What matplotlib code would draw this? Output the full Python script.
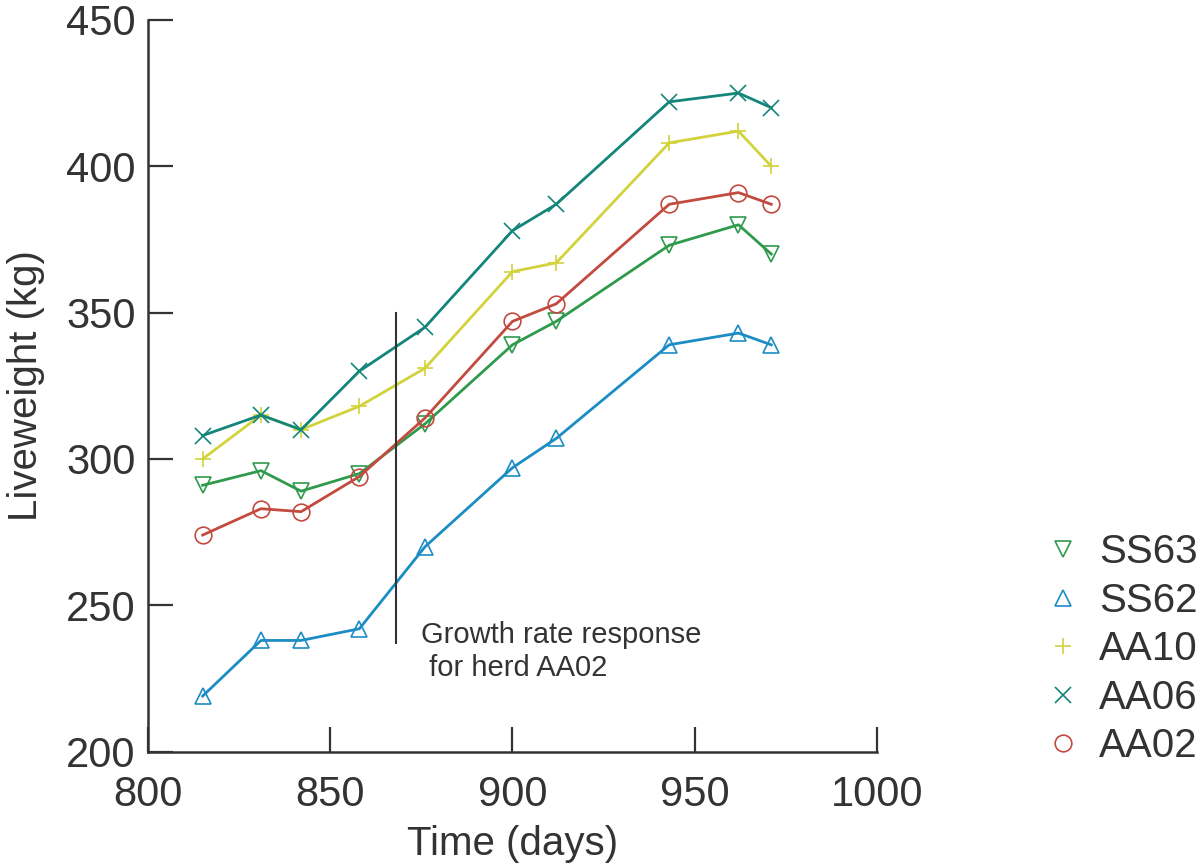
import matplotlib.pyplot as plt

plt.rcParams["font.family"] = ["Liberation Sans", "DejaVu Sans"]

days = [815, 831, 842, 858, 876, 900, 912, 943, 962, 971]
ss63 = [291, 296, 289, 295, 312, 339, 347, 373, 380, 370]
ss62 = [219, 238, 238, 242, 270, 297, 307, 339, 343, 339]
aa10 = [300, 315, 310, 318, 331, 364, 367, 408, 412, 400]
aa06 = [308, 315, 310, 330, 345, 378, 387, 422, 425, 420]
aa02 = [274, 283, 282, 294, 314, 347, 353, 387, 391, 387]

series = [
    ("SS63", ss63, "v", "#2f9a4c"),
    ("SS62", ss62, "^", "#1c8cc4"),
    ("AA10", aa10, "+", "#d2d33c"),
    ("AA06", aa06, "x", "#13857a"),
    ("AA02", aa02, "o", "#c24a3e"),
]

response_day = 868
response_range = [237, 350]

fig = plt.figure(figsize=(12.03, 8.64), dpi=100)
ax = fig.add_axes([0.123, 0.13, 0.606, 0.847])

for name, vals, mk, col in series:
    ax.plot(days, vals, color=col, lw=2, marker=mk, ms=12, mfc="none",
            mec=col, mew=1.2, label=name)

ax.plot([response_day, response_day], response_range, color="#333333", lw=1.5)
ax.text(875, 244.5, "Growth rate response\n for herd AA02", fontsize=21,
        color="#333333", va="top", ha="left", linespacing=1.2)

ax.set_xlim(800, 1000)
ax.set_ylim(200, 450)
ax.set_xticks([800, 850, 900, 950, 1000])
ax.set_yticks([200, 250, 300, 350, 400, 450])
ax.spines["top"].set_visible(False)
ax.spines["right"].set_visible(False)
for s in ("left", "bottom"):
    ax.spines[s].set_linewidth(1.8)
    ax.spines[s].set_color("#333333")
ax.tick_params(direction="in", length=18, width=1.6, labelsize=30,
               colors="#333333")
ax.tick_params(axis="x", pad=17)
ax.tick_params(axis="y", pad=9)
ax.set_xlabel("Time (days)", fontsize=29, color="#333333", labelpad=7)
ax.set_ylabel("Liveweight (kg)", fontsize=29, color="#333333", labelpad=15)

ax.legend(loc="center left", bbox_to_anchor=(1.18, 0.14), frameon=False,
          fontsize=29, handlelength=0.9, handletextpad=0.45, labelspacing=0.26,
          markerscale=1.0)
for h in ax.get_legend().get_lines():
    h.set_linestyle("none")
for t in ax.get_legend().get_texts():
    t.set_color("#333333")

fig.savefig("out.png", dpi=100)
